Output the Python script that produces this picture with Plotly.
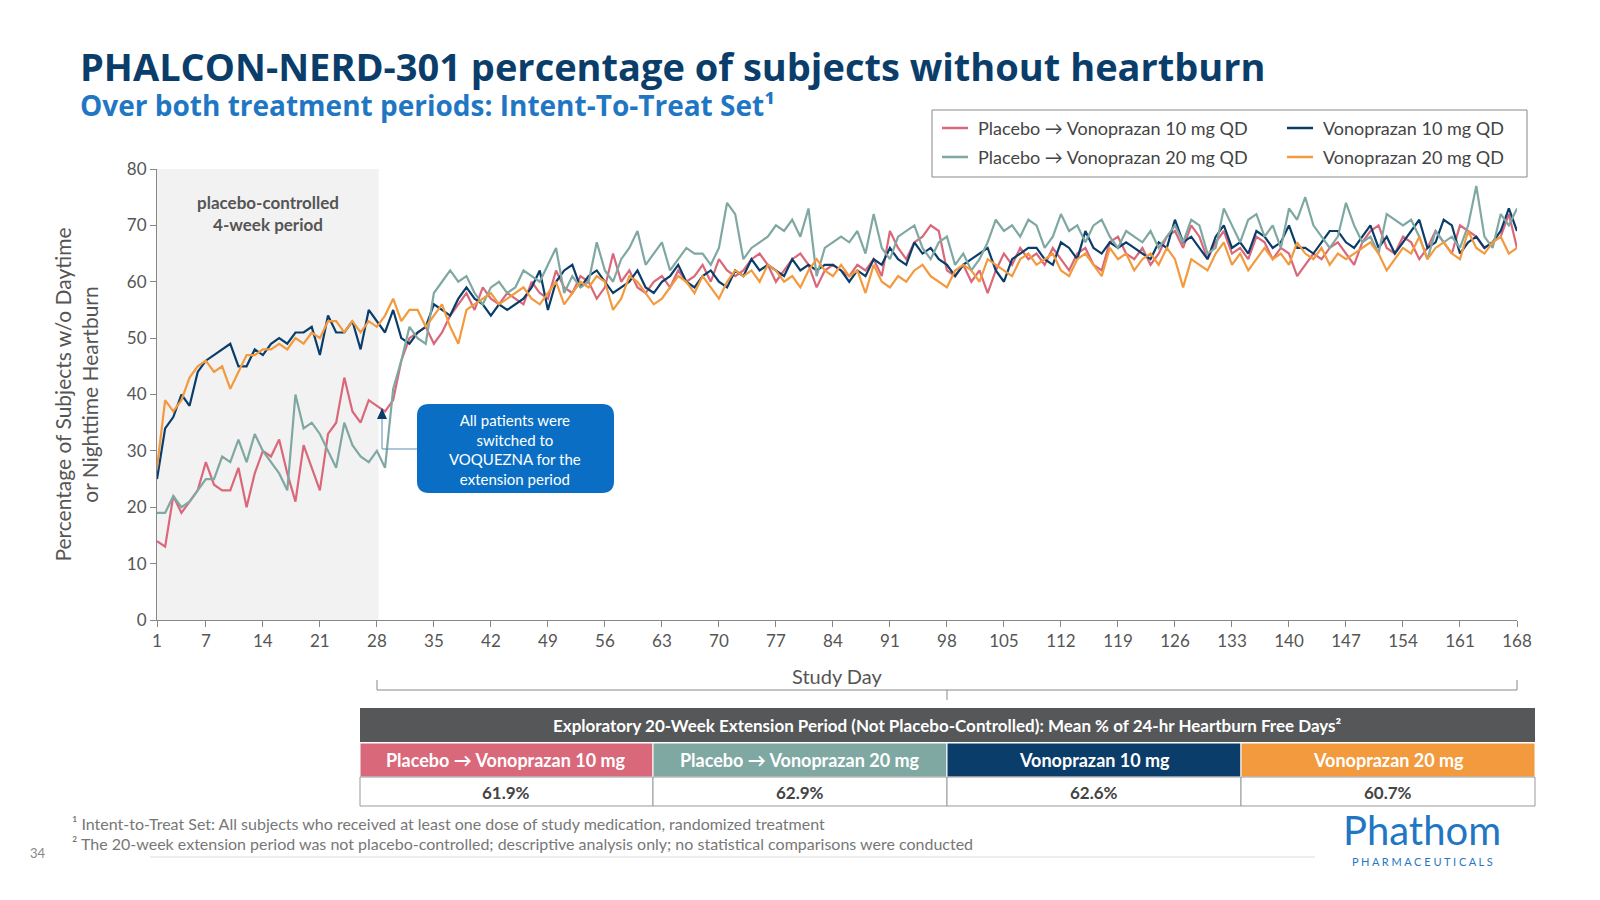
import plotly.graph_objects as go

days = list(range(1, 169))
x_ticks = [1, 7, 14, 21, 28, 35, 42, 49, 56, 63, 70, 77, 84, 91, 98, 105, 112, 119, 126, 133, 140, 147, 154, 161, 168]

v10 = [25,34,36,40,38,44,46,47,48,49,45,45,48,47,49,50,49,51,51,52,47,54,51,51,53,48,55,53,51,55,50,49,51,52,56,55,
       54,57,59,57,56,54,56,55,56,57,59,62,
       55,60,62,63,59,61,62,60,58,59,60,62,
       59,58,60,61,63,60,59,61,62,60,59,62,
       61,64,62,63,62,61,64,62,63,62,63,63,
       62,60,62,61,64,63,66,64,63,67,65,66,
       64,63,61,63,64,65,66,62,60,64,65,66,
       66,64,63,67,66,64,69,66,65,67,66,67,
       66,65,64,67,66,71,67,68,66,64,68,70,
       66,67,65,69,68,66,67,70,66,66,65,67,
       69,69,67,66,68,70,66,68,65,67,69,71,
       66,67,71,70,65,67,68,66,67,69,73,69]
v20 = [27,39,37,39,43,45,46,44,45,41,44,47,47,48,48,49,48,50,49,51,50,53,53,51,53,51,53,52,54,57,53,55,55,52,54,56,
       52,49,55,56,57,58,56,57,58,59,57,56,
       58,60,56,58,60,59,61,60,55,57,61,60,
       58,56,57,59,61,60,58,61,59,57,60,62,
       61,62,60,63,62,60,61,59,62,64,62,61,
       63,61,62,58,63,60,59,61,60,62,63,61,
       60,59,62,63,62,60,64,63,62,61,64,65,
       63,64,65,62,61,64,65,63,61,66,64,65,
       62,64,65,63,66,64,59,64,63,62,65,67,
       63,65,62,64,66,64,65,63,67,65,64,66,
       63,65,64,65,66,67,65,62,64,66,65,68,
       64,66,67,65,64,69,66,65,67,68,65,66]
p10 = [14,13,22,19,21,23,28,24,23,23,27,20,26,30,29,32,26,21,31,27,23,33,35,43,37,35,39,38,37,39,46,50,51,52,49,51,
       54,56,58,55,59,57,56,58,57,56,60,58,
       57,62,59,58,61,60,57,59,65,60,62,59,
       58,60,61,59,62,60,61,63,60,64,62,61,
       62,64,65,63,60,62,64,65,63,59,62,63,
       62,61,63,62,64,61,69,66,64,67,68,70,
       69,62,61,63,60,62,58,62,65,63,66,64,
       65,63,66,64,62,65,66,63,62,67,68,65,
       64,66,63,65,68,69,66,70,68,64,67,69,
       65,66,64,68,67,64,66,65,61,63,65,64,
       66,67,65,63,67,69,70,66,65,68,67,64,
       66,69,67,65,70,69,68,66,67,68,72,66]
p20 = [19,19,22,20,21,23,25,25,29,28,32,28,33,30,28,26,23,40,34,35,33,30,27,35,31,29,28,30,27,41,46,52,50,49,58,60,
       62,60,61,58,56,59,60,58,59,62,61,60,
       63,66,58,61,59,60,67,62,60,64,66,69,
       63,65,67,62,64,66,65,65,63,66,74,72,
       64,66,67,68,70,69,71,68,73,61,66,67,
       68,67,69,65,72,66,64,68,69,70,66,64,
       67,68,63,65,62,64,67,71,69,70,68,71,
       70,66,68,72,69,70,67,70,71,68,66,69,
       68,67,69,66,68,70,67,71,70,65,66,73,
       70,67,71,72,68,70,66,73,71,75,70,68,
       66,68,74,70,67,68,65,72,71,70,71,68,
       64,69,67,68,66,70,77,68,66,72,70,73]

groups = ["Placebo → Vonoprazan 10 mg", "Placebo → Vonoprazan 20 mg", "Vonoprazan 10 mg", "Vonoprazan 20 mg"]
means = ["61.9%", "62.9%", "62.6%", "60.7%"]
colors = ["#D9687A", "#7FA8A3", "#0B3D6B", "#F39A3E"]
names = ["Placebo → Vonoprazan 10 mg QD", "Vonoprazan 10 mg QD", "Placebo → Vonoprazan 20 mg QD", "Vonoprazan 20 mg QD"]
series = [p10, v10, p20, v20]
scol = [colors[0], colors[2], colors[1], colors[3]]

L, R, T, B = 157, 1517, 169, 620
def px(x): return (x - L) / (R - L)
def py(y): return (B - y) / (B - T)

fig = go.Figure()
for n, s, c in zip(names, series, scol):
    fig.add_trace(go.Scatter(x=days, y=s, name=n, mode="lines", line=dict(color=c, width=2.2), showlegend=False))

shapes = []
ann = []
def text(x, y, t, size, color="#555555", xa="center", family=None):
    f = dict(size=size, color=color)
    if family: f["family"] = family
    ann.append(dict(xref="paper", yref="paper", x=px(x), y=py(y), text=t, showarrow=False, xanchor=xa, yanchor="middle", font=f))

shapes.append(dict(type="rect", xref="x", yref="paper", x0=1, x1=28.2, y0=0, y1=1, fillcolor="#F2F2F2", line_width=0, layer="below"))
text(268, 214, "<b>placebo-controlled<br>4-week period</b>", 17)
x0, x1, y0, y1, r = 417, 614, 404, 493, 12
path = (f"M {px(x0+r)} {py(y0)} L {px(x1-r)} {py(y0)} Q {px(x1)} {py(y0)} {px(x1)} {py(y0+r)} "
        f"L {px(x1)} {py(y1-r)} Q {px(x1)} {py(y1)} {px(x1-r)} {py(y1)} L {px(x0+r)} {py(y1)} "
        f"Q {px(x0)} {py(y1)} {px(x0)} {py(y1-r)} L {px(x0)} {py(y0+r)} Q {px(x0)} {py(y0)} {px(x0+r)} {py(y0)} Z")
shapes.append(dict(type="path", xref="paper", yref="paper", path=path, fillcolor="#0A6FC4", line_width=0))
shapes.append(dict(type="path", xref="paper", yref="paper", path=f"M {px(417)} {py(449)} L {px(382)} {py(449)} L {px(382)} {py(418)}", line=dict(color="#5A8BB0", width=1)))
shapes.append(dict(type="path", xref="paper", yref="paper", path=f"M {px(377)} {py(419)} L {px(387)} {py(419)} L {px(382)} {py(408)} Z", fillcolor="#0B3D6B", line_width=0))
text(515, 449, "All patients were<br>switched to<br>VOQUEZNA for the<br>extension period", 15, "white")
shapes.append(dict(type="rect", xref="paper", yref="paper", x0=px(932), x1=px(1527), y0=py(177), y1=py(110), line=dict(color="#888888", width=1), fillcolor="white"))
leg_pos = [(942, 128), (1287, 128), (942, 157), (1287, 157)]
for (lx, ly), n, c in zip(leg_pos, names, scol):
    shapes.append(dict(type="line", xref="paper", yref="paper", x0=px(lx), x1=px(lx+26), y0=py(ly), y1=py(ly), line=dict(color=c, width=2.5)))
    text(lx + 34, ly, n, 18, "#444444", "left")
shapes.append(dict(type="path", xref="paper", yref="paper", path=f"M {px(377)} {py(680)} L {px(377)} {py(690)} L {px(1517)} {py(690)} L {px(1517)} {py(680)} M {px(947)} {py(690)} L {px(947)} {py(700)}", line=dict(color="#888888", width=1)))
text(837, 676, "Study Day", 20)
shapes.append(dict(type="rect", xref="paper", yref="paper", x0=px(360), x1=px(1535), y0=py(742), y1=py(708), fillcolor="#555759", line_width=0))
text(947, 725, "<b>Exploratory 20-Week Extension Period (Not Placebo-Controlled): Mean % of 24-hr Heartburn Free Days²</b>", 17, "white")
edges = [360, 653, 947, 1241, 1535]
for i in range(4):
    shapes.append(dict(type="rect", xref="paper", yref="paper", x0=px(edges[i]), x1=px(edges[i+1]), y0=py(777), y1=py(743), fillcolor=colors[i], line=dict(color="white", width=1)))
    shapes.append(dict(type="rect", xref="paper", yref="paper", x0=px(edges[i]), x1=px(edges[i+1]), y0=py(806), y1=py(777), fillcolor="white", line=dict(color="#999999", width=1)))
    text((edges[i]+edges[i+1])/2, 760, f"<b>{groups[i]}</b>", 18, "white")
    text((edges[i]+edges[i+1])/2, 792, f"<b>{means[i]}</b>", 17, "#444444")
text(78, 66, "<b>PHALCON-NERD-301 percentage of subjects without heartburn</b>", 38, "#0B3D6B", "left", "Open Sans")
text(78, 105, "<b>Over both treatment periods: Intent-To-Treat Set¹</b>", 28, "#1F77C4", "left", "Open Sans")
text(70, 823, "¹ Intent-to-Treat Set: All subjects who received at least one dose of study medication, randomized treatment", 16, "#777777", "left")
text(70, 843, "² The 20-week extension period was not placebo-controlled; descriptive analysis only; no statistical comparisons were conducted", 16, "#777777", "left")
text(38, 853, "34", 13, "#888888")
shapes.append(dict(type="line", xref="paper", yref="paper", x0=px(150), x1=px(1315), y0=py(857), y1=py(857), line=dict(color="#DDDDDD", width=1)))
text(1422, 830, "Phathom", 40, "#1F77C4")
text(1422, 861, "P H A R M A C E U T I C A L S", 11, "#1F77C4")

fig.update_layout(
    width=1600, height=900, paper_bgcolor="white", plot_bgcolor="white",
    margin=dict(l=L, r=1600 - R, t=T, b=900 - B),
    font=dict(family="Lato", color="#555555"),
    shapes=shapes, annotations=ann, showlegend=False,
    xaxis=dict(range=[1, 168], tickvals=x_ticks, ticks="outside", ticklen=6, tickcolor="#888888", showline=True, linecolor="#888888",
               showgrid=False, zeroline=False, tickfont=dict(size=17, color="#555555")),
    yaxis=dict(range=[0, 80], dtick=10, ticks="outside", ticklen=6, tickcolor="#888888", showline=True, linecolor="#888888",
               showgrid=False, zeroline=False, tickfont=dict(size=17, color="#555555"),
               title=dict(text="Percentage of Subjects w/o Daytime<br>or Nighttime Heartburn", font=dict(size=21, color="#555555"), standoff=22)),
)
fig.write_html("out.html", config={"displayModeBar": False},
               post_script="document.body.style.margin='0';document.body.style.overflow='hidden';document.documentElement.style.overflow='hidden';")
